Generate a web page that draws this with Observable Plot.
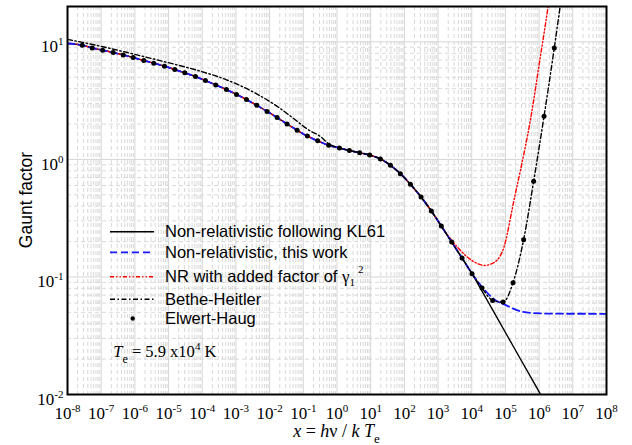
<!DOCTYPE html>
<html><head><meta charset="utf-8">
<script src="https://cdn.jsdelivr.net/npm/d3@7"></script>
<script src="https://cdn.jsdelivr.net/npm/@observablehq/plot@0.6"></script>
<style>
html,body{margin:0;padding:0;background:#fff;}
#chart{width:632px;height:445px;}
</style></head><body><div id="chart"></div>
<script>
// ---- data ----
// Elwert-Haug points
const ehX = [2.73e-8, 5.41e-8, 1.11e-7, 2.27e-7, 4.50e-7, 8.91e-7, 1.84e-6, 3.64e-6, 7.55e-6, 1.53e-5, 3.03e-5, 6.28e-5, 1.24e-4, 2.52e-4, 5.22e-4, 1.04e-3, 2.05e-3, 4.14e-3, 8.43e-3, 1.67e-2, 3.30e-2, 6.55e-2, 0.132, 0.267, 0.568, 1.18, 2.33, 4.72, 9.33, 19.4, 38.5, 76.0, 151, 313, 632, 1250, 2540, 5150, 1.02e4, 2.02e4, 4.17e4, 8.49e4, 1.68e5, 3.47e5, 6.87e5, 1.40e6, 2.82e6];
const ehG = [9.37, 8.89, 8.50, 8.12, 7.75, 7.37, 6.94, 6.59, 6.21, 5.82, 5.45, 5.07, 4.69, 4.30, 3.93, 3.57, 3.23, 2.89, 2.56, 2.27, 2.00, 1.77, 1.58, 1.44, 1.32, 1.25, 1.19, 1.14, 1.09, 1.01, 0.891, 0.757, 0.614, 0.479, 0.364, 0.271, 0.198, 0.145, 0.1066, 0.0804, 0.0632, 0.0611, 0.0894, 0.2076, 0.651, 2.33, 8.89];

// common low-energy branch shared by the three non-relativistic curves
const lowX = [1e-8, 2.73e-8, 5.41e-8, 1.11e-7, 2.27e-7, 4.50e-7, 8.91e-7, 1.84e-6, 3.64e-6, 7.55e-6, 1.53e-5, 3.03e-5, 6.28e-5, 1.24e-4, 2.52e-4, 5.22e-4, 1.04e-3, 2.05e-3, 4.14e-3, 8.43e-3, 1.67e-2, 3.30e-2, 6.55e-2, 0.132, 0.267, 0.568, 1.18, 2.33, 4.72, 9.33, 19.4, 38.5, 76.0, 151, 313, 632, 1250];
const lowG = [9.69, 9.37, 8.89, 8.50, 8.12, 7.75, 7.37, 6.94, 6.59, 6.21, 5.82, 5.45, 5.07, 4.69, 4.30, 3.93, 3.57, 3.23, 2.89, 2.56, 2.27, 2.00, 1.77, 1.58, 1.44, 1.32, 1.25, 1.19, 1.14, 1.09, 1.01, 0.891, 0.757, 0.614, 0.479, 0.364, 0.271];

// Non-relativistic following KL61 (tail)
const klTailX = [2540, 5150, 1.02e4, 2.0e4, 3.98e4, 1e5, 3.16e5, 1e6, 2e6];
const klTailG = [0.198, 0.145, 0.1066, 0.0760, 0.0537, 0.0337, 0.0188, 0.01054, 0.00744];

// Non-relativistic, this work (tail)
const nrTailX = [2540, 5150, 1.02e4, 2.2e4, 4.5e4, 1.1e5, 2.8e5, 7e5, 3e6, 1e8];
const nrTailG = [0.198, 0.145, 0.1066, 0.080, 0.065, 0.057, 0.051, 0.0492, 0.0487, 0.0486];

// NR with added factor of gamma1^2 (tail)
const gamTailX = [2540, 4150, 7380, 1.83e4, 2.4e4, 3.24e4, 5.75e4, 9.04e4, 1.14e5, 1.36e5, 1.79e5, 2.82e5, 5.61e5, 1.05e6, 1.83e6, 2.51e6];
const gamTailG = [0.205, 0.174, 0.1476, 0.1272, 0.125, 0.1272, 0.140, 0.1795, 0.2335, 0.303, 0.449, 0.82, 2.23, 6.99, 19.6, 37];

// Bethe-Heitler
const bhX = [1e-8, 1.11e-7, 8.91e-7, 7.55e-6, 6.28e-5, 5.22e-4, 4.14e-3, 1.67e-2, 6.55e-2, 0.132, 0.326, 0.568, 1.18, 2.33, 4.72, 9.33, 19.4, 38.5, 76.0, 151, 313, 632, 1250, 2540, 5150, 1.02e4, 2.02e4, 4.17e4, 8.49e4, 1.68e5, 3.47e5, 6.87e5, 1.40e6, 2.82e6, 4.17e6, 6e6];
const bhG = [10.5, 9.10, 7.89, 6.78, 5.79, 4.76, 3.61, 2.83, 2.11, 1.81, 1.56, 1.36, 1.25, 1.19, 1.14, 1.09, 1.01, 0.891, 0.757, 0.614, 0.479, 0.364, 0.271, 0.198, 0.145, 0.1066, 0.0804, 0.0632, 0.0611, 0.0894, 0.2076, 0.651, 2.33, 8.89, 19.6, 40];

// tick exponents
const xTickExp = [-8, -7, -6, -5, -4, -3, -2, -1, 0, 1, 2, 3, 4, 5, 6, 7, 8];
const yTickExp = [-2, -1, 0, 1];

// legend labels
const legendLabels = ["Non-relativistic following KL61", "Non-relativistic, this work", "NR with added factor of ", "Bethe-Heitler", "Elwert-Haug"];

// ---- build ----
const zip = (xs, gs) => xs.map((x, i) => ({x, g: gs[i]}));
const klData = zip(lowX.concat(klTailX), lowG.concat(klTailG));
const nrData = zip(lowX.concat(nrTailX), lowG.concat(nrTailG));
const gamData = zip(lowX.concat(gamTailX), lowG.concat(gamTailG));
const bhData = zip(bhX, bhG);
const ehData = zip(ehX, ehG);

const xMajor = xTickExp.map(e => Math.pow(10, e));
const yMajor = yTickExp.map(e => Math.pow(10, e));
const xMinor = [];
for (let e = -8; e < 8; e++) for (let k = 2; k <= 9; k++) xMinor.push(k * Math.pow(10, e));
const yMinor = [];
for (let e = -2; e < 2; e++) for (let k = 2; k <= 9; k++) { const v = k * Math.pow(10, e); if (v < 20) yMinor.push(v); }

const SERIF = "'Liberation Serif', 'Times New Roman', serif";
const SANS = "'Liberation Sans', Arial, Helvetica, sans-serif";
const fmt = d => "10^" + Math.round(Math.log10(d));
const RED_DASH = "4,2.2,1.2,2.2,1.2,2.2";
const BLUE_DASH = "7,4";
const BH_DASH = "5,2.5,1.5,2.5";

const chart = Plot.plot({
  width: 632, height: 445,
  marginLeft: 67, marginRight: 26, marginTop: 6, marginBottom: 51,
  style: {background: "white", fontFamily: SERIF, fontSize: "17px", color: "black", overflow: "visible"},
  x: {type: "log", domain: [1e-8, 1e8]},
  y: {type: "log", domain: [0.01, 20]},
  marks: [
    Plot.ruleX(xMinor, {stroke: "#d9d9d9", strokeDasharray: "4,3", strokeWidth: 1}),
    Plot.ruleY(yMinor, {stroke: "#d9d9d9", strokeDasharray: "4,3", strokeWidth: 1}),
    Plot.ruleX(xMajor, {stroke: "#d6d6d6", strokeWidth: 1}),
    Plot.ruleY(yMajor, {stroke: "#d6d6d6", strokeWidth: 1}),
    Plot.line(klData, {x: "x", y: "g", stroke: "black", strokeWidth: 1.4, curve: "monotone-x", clip: true}),
    Plot.line(gamData, {x: "x", y: "g", stroke: "#ff0000", strokeWidth: 1.4, strokeDasharray: RED_DASH, curve: "monotone-x", clip: true}),
    Plot.line(nrData, {x: "x", y: "g", stroke: "#1a1aff", strokeWidth: 1.8, strokeDasharray: BLUE_DASH, curve: "monotone-x", clip: true}),
    Plot.line(bhData, {x: "x", y: "g", stroke: "black", strokeWidth: 1.4, strokeDasharray: BH_DASH, curve: "monotone-x", clip: true}),
    Plot.dot(ehData, {x: "x", y: "g", r: 2.5, fill: "black", stroke: null}),
    Plot.axisX({ticks: xMajor, tickSize: 0, tickPadding: 12, tickFormat: fmt, fontSize: 17, label: null}),
    Plot.axisY({ticks: yMajor, tickSize: 0, tickPadding: 4, dy: 5, tickFormat: fmt, fontSize: 17, label: null}),
    Plot.frame({stroke: "black", strokeWidth: 2})
  ]
});
document.getElementById("chart").appendChild(chart);

const svg = d3.select(chart);
// superscript exponents in tick labels
svg.selectAll('g[aria-label="x-axis tick label"] text, g[aria-label="y-axis tick label"] text').each(function () {
  const t = d3.select(this);
  const m = t.text().match(/^10\^(.+)$/);
  if (!m) return;
  t.text("10");
  t.append("tspan").attr("dy", -7).attr("font-size", 11).text(m[1]);
});

// axis titles
const xl = svg.append("text").attr("x", 336.5).attr("y", 437).attr("text-anchor", "middle")
  .attr("font-family", SERIF).attr("font-size", 18).attr("fill", "black");
xl.append("tspan").attr("font-style", "italic").text("x");
xl.append("tspan").text(" = ");
xl.append("tspan").attr("font-style", "italic").text("h");
xl.append("tspan").text("ν / ");
xl.append("tspan").attr("font-style", "italic").text("k T");
xl.append("tspan").attr("dy", 6).attr("font-size", 13).text("e");

svg.append("text").attr("transform", "translate(31.5,200) rotate(-90)").attr("text-anchor", "middle")
  .attr("font-family", SANS).attr("font-size", 17.5).attr("fill", "black").text("Gaunt factor");

// legend
const lg = svg.append("g").attr("font-family", SANS).attr("font-size", 16.5).attr("fill", "black").attr("text-anchor", "start");
const rows = [
  {y: 231.7, stroke: "black", dash: null, w: 1.4},
  {y: 252.3, stroke: "#1a1aff", dash: BLUE_DASH, w: 1.8},
  {y: 276.7, stroke: "#ff0000", dash: RED_DASH, w: 1.4},
  {y: 299.3, stroke: "black", dash: BH_DASH, w: 1.4},
  {y: 318.5, dot: true}
];
rows.forEach((r, i) => {
  if (r.dot) {
    lg.append("circle").attr("cx", 132.7).attr("cy", r.y).attr("r", 2.2).attr("fill", "black");
  } else {
    lg.append("line").attr("x1", 110).attr("x2", 154).attr("y1", r.y).attr("y2", r.y)
      .attr("stroke", r.stroke).attr("stroke-width", r.w).attr("stroke-dasharray", r.dash);
  }
  const t = lg.append("text").attr("x", 165).attr("y", r.y + 5.5).attr("text-anchor", "start").text(legendLabels[i]);
  if (i === 2) {
    t.append("tspan").attr("font-family", SERIF).attr("font-size", 17).text("γ");
    t.append("tspan").attr("font-family", SERIF).attr("font-size", 11).attr("dy", 4).text("1");
    t.append("tspan").attr("font-family", SERIF).attr("font-size", 11).attr("dx", 3).attr("dy", -13).text("2");
  }
});

// temperature annotation
const te = svg.append("text").attr("x", 113.3).attr("y", 356.7).attr("text-anchor", "start")
  .attr("font-family", SERIF).attr("font-size", 16.5).attr("fill", "black");
te.append("tspan").attr("font-style", "italic").text("T");
te.append("tspan").attr("font-size", 12).attr("dy", 6).text("e");
te.append("tspan").attr("dy", -6).text(" = 5.9 x10");
te.append("tspan").attr("font-size", 11).attr("dy", -7).text("4");
te.append("tspan").attr("dy", 7).text(" K");
</script></body></html>
